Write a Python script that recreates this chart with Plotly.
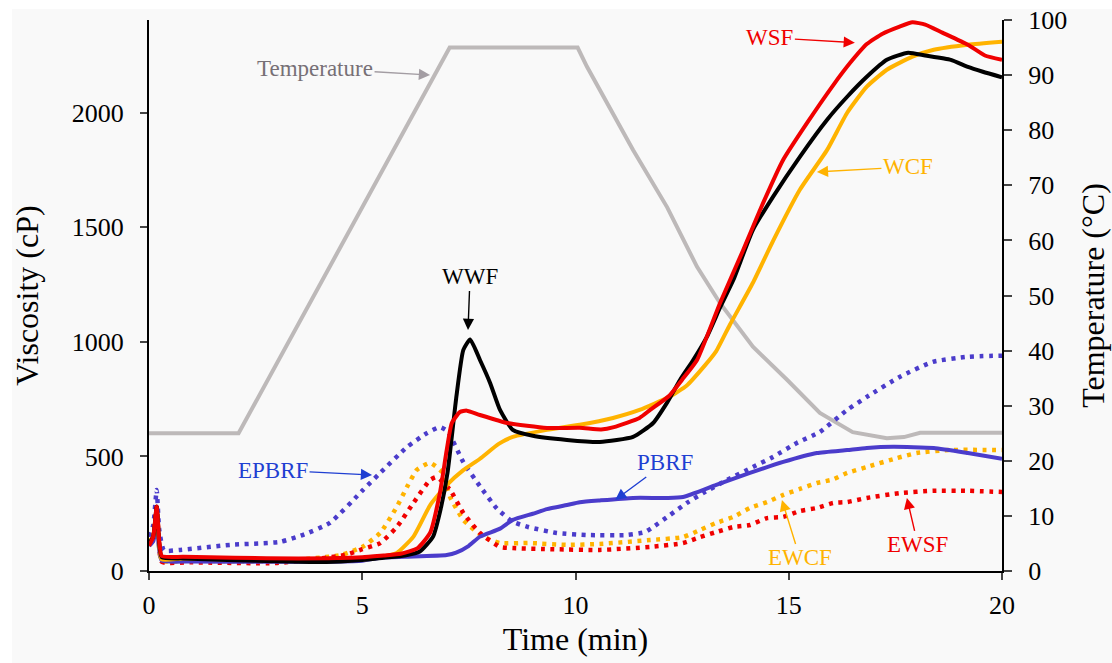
import plotly.graph_objects as go

# ---------------- data ----------------
temp_t = [0, 2.1, 7.05, 10.05, 10.27, 11.35, 12.15, 12.85, 13.39, 14.16, 14.96, 15.73, 16.5, 17.3, 17.7, 18.08, 20]
temp_v = [25, 25, 95, 95, 91.5, 76.4, 66, 55.2, 48.6, 40.7, 34.7, 28.7, 25.2, 24.1, 24.3, 25.1, 25.1]

wwf_t = [0.0, 0.1, 0.18, 0.24, 0.3, 0.8, 1.5, 2.5, 3.5, 4.5, 5.0, 5.5, 6.0, 6.35, 6.66, 6.85, 7.0, 7.2, 7.37,
         7.53, 7.76, 8.0, 8.23, 8.53, 9.0, 9.8, 10.57, 11.35, 11.82, 12.14, 12.45, 12.76, 13.08, 13.39, 13.7,
         14.16, 14.63, 15.26, 15.9, 16.37, 16.83, 17.3, 17.8, 18.2, 18.8, 19.2, 19.55, 20.0]
wwf_v = [120, 150, 280, 120, 60, 55, 50, 45, 40, 42, 48, 58, 68, 85, 150, 280, 430, 750, 965,
         1010, 921, 820, 703, 616, 590, 572, 563, 585, 646, 733, 834, 921, 1022, 1150, 1270,
         1489, 1633, 1808, 1970, 2070, 2157, 2231, 2262, 2250, 2231, 2200, 2179, 2155]

wsf_t = [0.0, 0.1, 0.18, 0.24, 0.3, 0.8, 2.0, 3.5, 5.0, 5.5, 5.9, 6.3, 6.59, 6.82, 6.98, 7.1, 7.29, 7.45,
         7.76, 8.4, 9.33, 10.1, 10.6, 10.9, 11.5, 11.75, 12.2, 12.5, 12.85, 13.39, 13.93, 14.33, 14.87,
         15.43, 16.04, 16.44, 16.83, 17.2, 17.6, 17.9, 18.2, 18.6, 19.2, 19.6, 20.0]
wsf_v = [110, 150, 280, 130, 65, 62, 58, 55, 60, 68, 75, 100, 166, 340, 528, 646, 694, 700,
         681, 646, 624, 625, 618, 628, 668, 703, 765, 835, 921, 1170, 1400, 1577, 1795,
         1956, 2120, 2218, 2300, 2345, 2376, 2395, 2385, 2350, 2297, 2250, 2231]

wcf_t = [0.0, 0.1, 0.18, 0.24, 0.3, 0.8, 2.0, 3.5, 5.0, 5.4, 5.81, 6.2, 6.6, 6.98, 7.37, 7.76, 8.2, 8.53,
         9.33, 10.1, 10.88, 11.5, 12.2, 12.61, 13.0, 13.3, 13.62, 14.16, 14.63, 15.26, 15.9, 16.37, 16.83,
         17.3, 17.9, 18.4, 19.2, 20.0]
wcf_v = [130, 150, 270, 110, 50, 55, 50, 45, 50, 60, 79, 150, 290, 375, 440, 490, 555, 585,
         616, 638, 668, 703, 760, 810, 890, 960, 1075, 1258, 1440, 1664, 1838, 2000, 2114,
         2188, 2245, 2275, 2297, 2310]

pbrf_t = [0.0, 0.1, 0.18, 0.24, 0.3, 1.0, 3.0, 5.0, 5.4, 6.0, 6.98, 7.2, 7.5, 7.76, 8.23, 8.53, 9.0, 9.33,
          9.8, 10.1, 10.57, 11.35, 12.14, 12.52, 13.3, 14.09, 14.87, 15.66, 16.37, 16.83, 17.45, 18.4,
          19.2, 20.0]
pbrf_v = [110, 130, 200, 90, 45, 42, 40, 45, 57, 62, 70, 80, 110, 150, 185, 223, 250, 270,
          288, 300, 308, 319, 319, 323, 376, 428, 476, 515, 528, 537, 542, 537,
          515, 490]

epbrf_t = [0.0, 0.1, 0.18, 0.24, 0.35, 0.73, 1.9, 3.07, 3.6, 4.24, 5.02, 5.42, 6.05, 6.5, 6.82, 7.0, 7.37,
           7.76, 8.16, 8.53, 8.89, 9.56, 10.27, 11.2, 11.63, 11.82, 12.22, 12.61, 13.0, 13.55, 14.16,
           14.63, 15.19, 15.73, 16.37, 16.83, 17.6, 18.38, 19.2, 20.0]
epbrf_v = [150, 200, 354, 180, 90, 92, 114, 127, 157, 210, 354, 428, 541, 600, 628, 610, 475,
           370, 272, 215, 192, 166, 157, 157, 170, 192, 245, 297, 341, 397, 454,
           498, 559, 607, 703, 760, 847, 913, 935, 940]

ewcf_t = [0.0, 0.1, 0.18, 0.24, 0.3, 1.0, 3.0, 4.5, 5.0, 5.42, 5.81, 6.05, 6.28, 6.59, 6.87, 7.06, 7.37,
          7.83, 8.23, 8.93, 9.8, 10.57, 11.75, 12.52, 12.92, 13.3, 13.7, 14.09, 14.49, 14.87, 15.26,
          15.66, 16.04, 16.37, 16.83, 17.54, 18.0, 18.78, 20.0]
ewcf_v = [120, 150, 260, 100, 45, 45, 42, 70, 105, 166, 280, 367, 441, 472, 432, 323, 223,
          150, 122, 122, 114, 118, 135, 148, 179, 210, 236, 275, 301, 332, 358,
          384, 400, 428, 454, 493, 515, 528, 528]

ewsf_t = [0.0, 0.1, 0.18, 0.24, 0.3, 1.0, 3.0, 4.6, 5.0, 5.42, 5.81, 6.2, 6.59, 6.75, 7.06, 7.37, 7.76,
          8.23, 8.53, 9.5, 10.57, 11.75, 12.52, 12.92, 13.3, 13.7, 14.09, 14.49, 14.87, 15.26, 15.66,
          16.04, 16.37, 16.83, 17.6, 18.38, 19.2, 20.0]
ewsf_v = [110, 140, 280, 110, 40, 38, 35, 70, 95, 122, 192, 297, 397, 410, 354, 253, 166,
          105, 100, 95, 92, 105, 122, 148, 170, 192, 201, 231, 236, 262, 275,
          297, 301, 319, 340, 350, 350, 345]

x_ticks = [0, 5, 10, 15, 20]
visc_ticks = [0, 500, 1000, 1500, 2000]
temp_ticks = [0, 10, 20, 30, 40, 50, 60, 70, 80, 90, 100]

# ---------------- styles ----------------
FONT = "Liberation Serif, Times New Roman, serif"
RED = "#f00000"
YEL = "#ffb300"
PUR = "#4b3ccb"
GRY = "#bdb9b9"
BLUE_TXT = "#1f3fd2"
DOT = "4px,5.5px"

fig = go.Figure()

# temperature on y (right side), drawn first so it sits behind
fig.add_trace(go.Scatter(x=temp_t, y=temp_v, mode="lines", yaxis="y",
                         line=dict(color=GRY, width=4),
                         showlegend=False, hoverinfo="skip"))

def add(t, v, color, dotted=False):
    fig.add_trace(go.Scatter(x=t, y=v, mode="lines", yaxis="y2",
                             line=dict(color=color, width=4.5 if dotted else 4,
                                       dash=DOT if dotted else "solid",
                                       shape="spline", smoothing=0.5),
                             showlegend=False, hoverinfo="skip"))

add(epbrf_t, epbrf_v, PUR, True)
add(ewcf_t, ewcf_v, YEL, True)
add(ewsf_t, ewsf_v, RED, True)
add(pbrf_t, pbrf_v, PUR)
add(wcf_t, wcf_v, YEL)
add(wwf_t, wwf_v, "black")
add(wsf_t, wsf_v, RED)

tickfont = dict(family=FONT, size=26, color="black")
titlefont = dict(family=FONT, size=32, color="black")

fig.update_layout(
    width=1112, height=663,
    margin=dict(l=149, r=110, t=20, b=92, autoexpand=False),
    paper_bgcolor="white",
    plot_bgcolor="rgba(0,0,0,0)",
    font=dict(family=FONT),
    xaxis=dict(range=[0, 20], tickvals=x_ticks, ticks="outside", ticklen=7, tickwidth=2,
               showline=True, linecolor="black", linewidth=2, showgrid=False, zeroline=False,
               automargin=False, ticklabelstandoff=3, ticklabeloverflow="allow",
               tickfont=tickfont, title=dict(text="Time (min)", font=titlefont, standoff=8)),
    yaxis=dict(range=[0, 100], tickvals=temp_ticks, side="right", ticks="outside", ticklen=8, tickwidth=2,
               showline=True, linecolor="black", linewidth=2, showgrid=False, zeroline=False,
               automargin=False, ticklabelstandoff=11, ticklabeloverflow="allow",
               tickfont=tickfont, title=dict(text="Temperature (°C)", font=titlefont, standoff=15)),
    yaxis2=dict(range=[0, 2405], tickvals=visc_ticks, side="left", overlaying="y", anchor="x",
                ticks="outside", ticklen=7, tickwidth=2,
                showline=True, linecolor="black", linewidth=2, showgrid=False, zeroline=False,
                automargin=False, ticklabelstandoff=11, ticklabeloverflow="allow",
                tickfont=tickfont, title=dict(text="Viscosity (cP)", font=titlefont, standoff=24)),
)

# light grey backdrop leaving a thin white border at top/left (as in the reference)
fig.add_shape(type="rect", xref="paper", yref="paper", x0=-0.1606, x1=1.2, y0=-0.2, y1=1.02,
              fillcolor="#f9f9f9", line=dict(width=0), layer="below")

def note(text, x, y, ax, ay, color, arrowcolor=None, yref="y2"):
    fig.add_annotation(x=x, y=y, xref="x", yref=yref, ax=ax, ay=ay, text=text, showarrow=True,
                       arrowhead=2, arrowsize=1.6, arrowwidth=1.4, arrowcolor=arrowcolor or color,
                       font=dict(family=FONT, size=23, color=color))

note("Temperature", 6.59, 90, -115, -7, "#777076", "#a39da3", yref="y")
note("WSF", 16.55, 2306, -85, -5, RED)
note("WCF", 15.66, 1742, 91, -5, YEL)
note("WWF", 7.48, 1052, 2, -53, "black")
note("EPBRF", 5.23, 419, -99, -5, BLUE_TXT)
note("PBRF", 10.93, 310, 50, -37, BLUE_TXT)
note("EWCF", 14.84, 310, 18, 58, YEL)
note("EWSF", 17.77, 319, 11, 47, RED)

# remove the page's default body margin so the figure fills the window exactly
fig.write_html("out.html", config={"displayModeBar": False},
               post_script="document.body.style.margin='0px';")
